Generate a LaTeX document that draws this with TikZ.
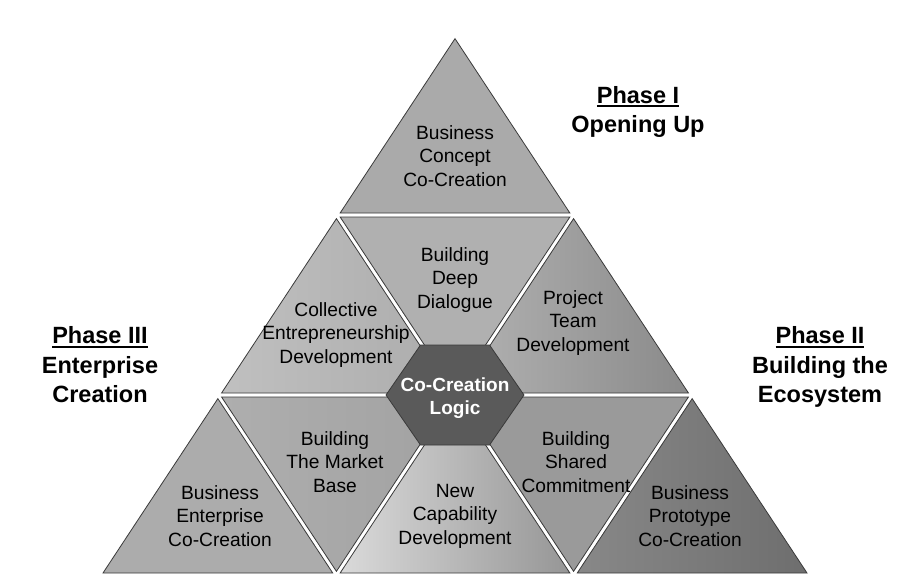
\documentclass[tikz,border=0pt]{standalone}
\usepackage{fontspec}
\setmainfont{Liberation Sans}
\newsavebox\phbox
\newcommand\phul[1]{\sbox\phbox{#1}\rlap{\rule[-4pt]{\wd\phbox}{1.8pt}}\usebox\phbox}
\def\H{118.57}
\def\V{180}
\newcommand\mytriup[3]{\path[#3] (#1,#2+3.64) -- (#1+\H-3.71,#2+\V-2) -- (#1-\H+3.71,#2+\V-2) -- cycle;}
\newcommand\mytridn[3]{\path[#3] (#1-\H+3.71,#2+2) -- (#1+\H-3.71,#2+2) -- (#1,#2+\V-3.64) -- cycle;}
\definecolor{edgec}{HTML}{3A3A3A}
\tikzset{
  cell/.style={draw=edgec, line width=0.8pt, line join=miter},
  lbl/.style={align=center, text=black, font=\fontsize{19.2}{23.5}\selectfont, inner sep=0pt},
  phase/.style={align=center, text=black, font=\fontsize{23.5}{29.5}\selectfont\bfseries, inner sep=0pt},
  hexlbl/.style={align=center, text=white, font=\fontsize{19}{23}\selectfont\bfseries, inner sep=0pt},
}
\begin{document}
\begin{tikzpicture}[x=1pt,y=-1pt]
\useasboundingbox (0,0) rectangle (920,583);
\fill[white] (0,0) rectangle (920,583);
% row 1
\mytriup{455}{35}{cell, fill={rgb,255:red,170;green,170;blue,170}}
% row 2
\mytriup{336.43}{215}{cell, left color={rgb,255:red,192;green,192;blue,192}, right color={rgb,255:red,172;green,172;blue,172}}
\mytridn{455}{215}{cell, fill={rgb,255:red,176;green,176;blue,176}}
\mytriup{573.57}{215}{cell, left color={rgb,255:red,178;green,178;blue,178}, right color={rgb,255:red,138;green,138;blue,138}}
% row 3
\mytriup{217.86}{395}{cell, fill={rgb,255:red,172;green,172;blue,172}}
\mytridn{336.43}{395}{cell, left color={rgb,255:red,174;green,174;blue,174}, right color={rgb,255:red,162;green,162;blue,162}}
\mytriup{455}{395}{cell, left color={rgb,255:red,218;green,218;blue,218}, right color={rgb,255:red,150;green,150;blue,150}}
\mytridn{573.57}{395}{cell, fill={rgb,255:red,154;green,154;blue,154}}
\mytriup{692.14}{395}{cell, left color={rgb,255:red,136;green,136;blue,136}, right color={rgb,255:red,110;green,110;blue,110}}
% hexagon
\path[draw=edgec, line width=0.8pt, fill={rgb,255:red,90;green,90;blue,90}]
  (420.5,345) -- (489.5,345) -- (524,395) -- (489.5,445) -- (420.5,445) -- (386,395) -- cycle;
% labels
\node[lbl] (concept) at (455,156) {Business\\Concept\\Co-Creation};
\node[lbl] (dialogue) at (455,280) {Building\\Deep\\Dialogue};
\node[lbl] (collective) at (336,335) {Collective\\Entrepreneurship\\Development};
\node[lbl] (team) at (573,323) {Project\\Team\\Development};
\node[hexlbl] (logic) at (455,398) {Co-Creation\\Logic};
\node[lbl] (market) at (335,462) {Building\\The Market\\Base};
\node[lbl] (shared) at (576,462) {Building\\Shared\\Commitment};
\node[lbl] (enterprise) at (220,516) {Business\\Enterprise\\Co-Creation};
\node[lbl] (capability) at (455,516) {New\\Capability\\Development};
\node[lbl] (prototype) at (690,516) {Business\\Prototype\\Co-Creation};
% phases
\node[phase] (p1) at (638,112) {\phul{Phase I}\\Opening Up};
\node[phase] (p3) at (100,365) {\phul{Phase III}\\Enterprise\\Creation};
\node[phase] (p2) at (820,367) {\phul{Phase II}\\Building the\\Ecosystem};
\end{tikzpicture}
\end{document}
